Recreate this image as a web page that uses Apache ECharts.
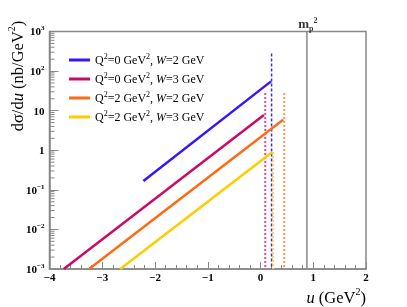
<!DOCTYPE html>
<html><head><meta charset="utf-8">
<script src="https://cdn.jsdelivr.net/npm/echarts@6/dist/echarts.min.js"></script>
<style>html,body{margin:0;padding:0;background:#fff}#c{width:407px;height:307px}</style>
</head><body><div id="c"></div>
<script>
// ---- data ----
const seriesNames = ['Q2=0 GeV2, W=2 GeV', 'Q2=0 GeV2, W=3 GeV', 'Q2=2 GeV2, W=2 GeV', 'Q2=2 GeV2, W=3 GeV'];
const legendLabels = [
  '{n|Q}{s|2}{n|=0 GeV}{s|2}{n|, }{i|W}{n|=2 GeV}',
  '{n|Q}{s|2}{n|=0 GeV}{s|2}{n|, }{i|W}{n|=3 GeV}',
  '{n|Q}{s|2}{n|=2 GeV}{s|2}{n|, }{i|W}{n|=2 GeV}',
  '{n|Q}{s|2}{n|=2 GeV}{s|2}{n|, }{i|W}{n|=3 GeV}'
];
const uBlue = [-2.22, 0.2],    sigBlue = [0.167, 55];
const uMag = [-3.73, 0.065],   sigMag = [0.001, 7.8];
const uOrange = [-3.25, 0.43], sigOrange = [0.001, 5.9];
const uYellow = [-2.66, 0.22], sigYellow = [0.001, 0.89];
// kinematic limits (vertical dotted lines)
const cutU = [0.21, 0.09, 0.45, 0.24];
const cutTop = [280, 28, 28, 0.9];
const cutBottom = 0.001;
const mpSquared = 0.88;
// axes
const xMin = -4, xMax = 2;
const yMin = 0.001, yMax = 1000;
const xTickLabels = ['\u22124', '\u22123', '\u22122', '\u22121', '0', '1', '2'];
const yTickLabels = ['{b|10}{s|\u22123}', '{b|10}{s|\u22122}', '{b|10}{s|\u22121}', '{b|1}', '{b|10}', '{b|10}{s|2}', '{b|10}{s|3}'];
const yDecades = [-3, -2, -1, 0, 1, 2];
const yMinorMultipliers = [2, 3, 4, 5, 6, 7, 8, 9];

// ---- styles ----
const lineColors = ['#3a14ff', '#cc0a66', '#ff6a14', '#ffcc00'];
const cutColors = ['#3a2aff', '#e8489a', '#ff9a55', '#ffd24a'];
const axisGray = '#888888';
const serif = '"Liberation Serif", "DejaVu Serif", serif';

function pairs(xs, ys) { return xs.map((x, i) => [x, ys[i]]); }
const mainData = [pairs(uBlue, sigBlue), pairs(uMag, sigMag), pairs(uOrange, sigOrange), pairs(uYellow, sigYellow)];

const minorTickData = [];
yDecades.forEach(d => yMinorMultipliers.forEach(m => minorTickData.push([xMin, m * Math.pow(10, d)])));

const series = [];
mainData.forEach((d, i) => series.push({
  name: seriesNames[i], type: 'line', data: d, showSymbol: false, symbol: 'none',
  lineStyle: { color: lineColors[i], width: 2.5 }, itemStyle: { color: lineColors[i] }, z: 5
}));
cutU.forEach((u, i) => series.push({
  type: 'line', data: [[u, cutTop[i]], [u, cutBottom]], showSymbol: false, symbol: 'none',
  lineStyle: { color: cutColors[i], width: i === 0 ? 1.5 : 2, type: i === 0 ? [3, 2] : [2, 2] }, z: 4, silent: true
}));
series.push({
  type: 'line', data: [[mpSquared, yMin], [mpSquared, yMax]], showSymbol: false, symbol: 'none',
  lineStyle: { color: axisGray, width: 1.5 }, z: 3, silent: true
});
series.push({
  type: 'scatter', data: [[mpSquared, yMax]], symbolSize: 1, silent: true, clip: false, z: 7,
  itemStyle: { color: 'rgba(0,0,0,0)' },
  label: {
    show: true, position: 'top', distance: 1, offset: [1, 3],
    formatter: '{m|m}{p|p}{q|2}',
    rich: {
      m: { fontFamily: serif, fontWeight: 'bold', fontSize: 13, lineHeight: 16, verticalAlign: 'middle', color: '#000' },
      p: { fontFamily: serif, fontWeight: 'bold', fontSize: 8, lineHeight: 16, verticalAlign: 'bottom', color: '#000' },
      q: { fontFamily: serif, fontWeight: 'bold', fontSize: 8, lineHeight: 16, verticalAlign: 'top', color: '#000' }
    }
  }
});
series.push({
  type: 'custom', coordinateSystem: 'cartesian2d', data: minorTickData, silent: true, clip: false, z: 6,
  renderItem: function (params, api) {
    const p = api.coord([api.value(0), api.value(1)]);
    return { type: 'line', shape: { x1: p[0], y1: p[1], x2: p[0] + 5, y2: p[1] }, style: { stroke: axisGray, lineWidth: 1 } };
  }
});

const titleRich = {
  n: { fontFamily: serif, fontSize: 16.5, lineHeight: 20, verticalAlign: 'bottom', fill: '#000' },
  i: { fontFamily: serif, fontSize: 16.5, fontStyle: 'italic', lineHeight: 20, verticalAlign: 'bottom', fill: '#000' },
  s: { fontFamily: serif, fontSize: 10, lineHeight: 20, verticalAlign: 'top', fill: '#000' }
};

const chart = echarts.init(document.getElementById('c'), null, { renderer: 'canvas' });
chart.setOption({
  animation: false,
  backgroundColor: '#ffffff',
  grid: { left: 49.5, right: 41, top: 31.5, bottom: 38, show: true, borderColor: axisGray, borderWidth: 1.5, backgroundColor: 'transparent' },
  legend: {
    data: seriesNames, orient: 'vertical', left: 64, top: 48, itemWidth: 21, itemHeight: 3, itemGap: 5, icon: 'rect',
    formatter: name => legendLabels[seriesNames.indexOf(name)],
    textStyle: {
      fontFamily: serif, fontSize: 12, color: '#000',
      rich: {
        n: { fontFamily: serif, fontSize: 12, lineHeight: 14, verticalAlign: 'bottom' },
        i: { fontFamily: serif, fontSize: 12, fontStyle: 'italic', lineHeight: 14, verticalAlign: 'bottom' },
        s: { fontFamily: serif, fontSize: 8, lineHeight: 14, verticalAlign: 'top' }
      }
    }
  },
  xAxis: {
    type: 'value', min: xMin, max: xMax, interval: 1,
    axisLine: { onZero: false, lineStyle: { color: axisGray, width: 1.5 } },
    axisTick: { inside: true, length: 7, lineStyle: { color: axisGray, width: 1 } },
    minorTick: { show: true, splitNumber: 5, length: 4, lineStyle: { color: axisGray, width: 1 } },
    splitLine: { show: false },
    axisLabel: {
      margin: 4, color: '#000', fontFamily: serif, fontWeight: 'bold', fontSize: 11,
      formatter: v => xTickLabels[Math.round(v - xMin)]
    }
  },
  yAxis: {
    type: 'log', logBase: 10, min: yMin, max: yMax, splitNumber: 6,
    axisLine: { onZero: false, lineStyle: { color: axisGray, width: 1.5 } },
    axisTick: { inside: true, length: 9, lineStyle: { color: axisGray, width: 1 } },
    splitLine: { show: false },
    axisLabel: {
      margin: 5, color: '#000',
      formatter: v => yTickLabels[Math.round(Math.log10(v)) + 3],
      rich: {
        b: { fontFamily: serif, fontWeight: 'bold', fontSize: 11, lineHeight: 13, verticalAlign: 'bottom' },
        s: { fontFamily: serif, fontWeight: 'bold', fontSize: 7, lineHeight: 13, verticalAlign: 'top' }
      }
    }
  },
  graphic: [
    {
      type: 'text', x: 17, y: 76, rotation: Math.PI / 2,
      style: { text: '{n|d\u03c3/d}{i|u}{n| (nb/GeV}{s|2}{n|)}', align: 'center', verticalAlign: 'middle', rich: titleRich }
    },
    {
      type: 'text', x: 366, y: 297,
      style: { text: '{i|u}{n| (GeV}{s|2}{n|)}', align: 'right', verticalAlign: 'middle', rich: titleRich }
    }
  ],
  series: series
});
</script>
</body></html>
